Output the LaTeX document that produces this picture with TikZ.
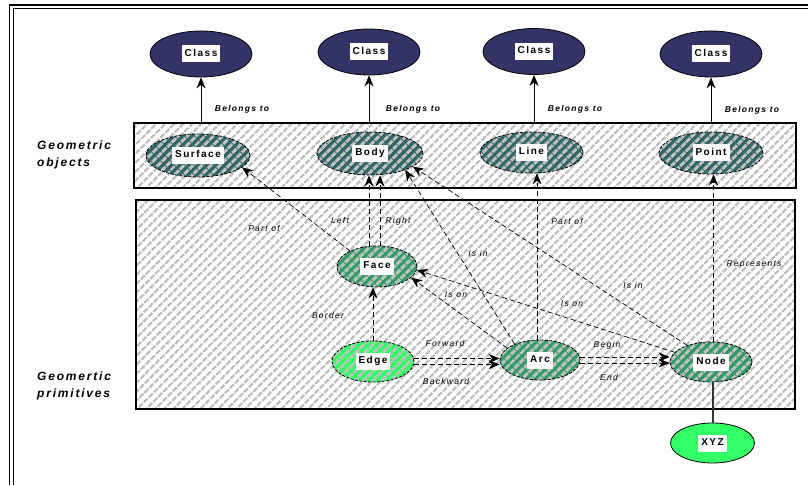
\documentclass[tikz,border=0pt]{standalone}
\usepackage{fontspec}
\setmainfont{Liberation Sans}[LetterSpace=15]
\usetikzlibrary{arrows.meta,shapes.geometric,patterns.meta}

\definecolor{classblue}{RGB}{51,51,102}
\definecolor{objteal}{RGB}{51,102,102}
\definecolor{primgreen}{RGB}{51,153,102}
\definecolor{lightgreen}{RGB}{51,255,102}
\definecolor{hatchgray}{RGB}{192,192,192}

% white label box sitting inside the ovals
\newcommand{\tagbox}[1]{{\setlength{\fboxsep}{3pt}\colorbox{white}{\strut #1}}}

\tikzset{
  oval/.style={ellipse, inner sep=0pt, font=\fontsize{10}{11}\selectfont\bfseries},
  classnode/.style={oval, draw, line width=0.8pt, fill=classblue,
    minimum width=102pt, minimum height=46pt},
  hatchfill/.style={preaction={fill=#1},
    preaction={pattern={Lines[angle=45,distance=6.5pt,line width=3.2pt]}, pattern color=hatchgray}},
  geonode/.style={oval, draw, line width=0.8pt, dash pattern=on 3pt off 1.5pt, hatchfill=#1},
  panel/.style={draw, line width=1.2pt, preaction={fill=white},
    preaction={pattern={Lines[angle=45,distance=6.5pt,line width=2.4pt]}, pattern color=hatchgray}},
  link/.style={line width=0.7pt, dash pattern=on 5pt off 3pt, -{Stealth[length=11pt,width=9pt]}},
  belongs/.style={line width=0.8pt, -{Stealth[length=11pt,width=9pt]}},
  lbl/.style={inner sep=0pt, font=\fontsize{8.5}{10}\selectfont\itshape},
  blbl/.style={inner sep=0pt, font=\fontsize{8.5}{10}\selectfont\bfseries\itshape},
  sidetitle/.style={anchor=west, align=left, inner sep=0pt,
    font=\fontsize{12}{17}\selectfont\bfseries\itshape}
}

\begin{document}
\begin{tikzpicture}[x=1pt,y=1pt]
\useasboundingbox (0,0) rectangle (808,485);

% double frame
\draw[line width=1.6pt] (9.5,0) -- (9.5,480) -- (808,480);
\draw[line width=1pt] (13,0) -- (13,476.5) -- (808,476.5);

% classes
\node[classnode] (clsA) at (201,431) {\tagbox{Class}};
\node[classnode] (clsB) at (369,433) {\tagbox{Class}};
\node[classnode] (clsC) at (534,433.5) {\tagbox{Class}};
\node[classnode] (clsD) at (711,431) {\tagbox{Class}};

\coordinate (objtop) at (0,362);
\draw[belongs] (clsA.south |- objtop) -- (clsA.south);
\draw[belongs] (clsB.south |- objtop) -- (clsB.south);
\draw[belongs] (clsC.south |- objtop) -- (clsC.south);
\draw[belongs] (clsD.south |- objtop) -- (clsD.south);

\node[blbl] (bA) at (242,376) {Belongs to};
\node[blbl] (bB) at (413,376) {Belongs to};
\node[blbl] (bC) at (575,376) {Belongs to};
\node[blbl] (bD) at (752,375) {Belongs to};

% the two layers
\draw[panel] (134,362) rectangle (796,297);
\draw[panel] (136,285) rectangle (795,76);

\node[sidetitle] (tObj) at (37,330.5) {Geometric\\objects};
\node[sidetitle] (tPrim) at (37,99.5) {Geomertic\\primitives};

% geometric objects
\node[geonode=objteal, minimum width=104pt, minimum height=43pt] (surface) at (198,329.5) {\tagbox{Surface}};
\node[geonode=objteal, minimum width=106pt, minimum height=43pt] (body) at (370,331.5) {\tagbox{Body}};
\node[geonode=objteal, minimum width=103pt, minimum height=41pt] (line) at (531.5,332.5) {\tagbox{Line}};
\node[geonode=objteal, minimum width=104pt, minimum height=42pt] (point) at (711,332) {\tagbox{Point}};

% primitives
\node[geonode=primgreen, minimum width=80pt, minimum height=41pt] (face) at (377,218.5) {\tagbox{Face}};
\node[geonode=lightgreen, minimum width=82pt, minimum height=41pt] (edgep) at (373,123.5) {\tagbox{Edge}};
\node[geonode=primgreen, minimum width=80pt, minimum height=40pt] (arcp) at (540,125) {\tagbox{Arc}};
\node[geonode=primgreen, minimum width=82pt, minimum height=40pt] (nodep) at (711,123) {\tagbox{Node}};
\node[oval, draw, line width=0.8pt, fill=lightgreen, minimum width=84pt, minimum height=40pt] (xyz) at (712.5,42) {\tagbox{XYZ}};

% links between primitives and objects
\draw[link] (face.150) -- (surface.-15);
\draw[link] ([xshift=-8pt]face.north) -- ([xshift=-8pt]face.north |- body.south);
\draw[link] ([xshift=3pt]face.north) -- ([xshift=3pt]face.north |- body.south);
\draw[link] (arcp.148) -- (body.-25);
\draw[link] (nodep.145) -- (body.-17);
\draw[link] ([xshift=-3pt]arcp.north) -- ([xshift=-3pt]arcp.north |- line.south);
\draw[link] ([xshift=2.5pt]nodep.north) -- ([xshift=2.5pt]nodep.north |- point.south);
\draw[link] (edgep.north) -- (edgep.north |- face.south);
\draw[link] (arcp.160) -- (face.-18);
\draw[link] (nodep.165) -- (face.-5);
\draw[link] ([yshift=3pt]edgep.east) -- ([yshift=3pt]edgep.east -| arcp.west);
\draw[link] ([yshift=-3pt]edgep.east) -- ([yshift=-3pt]edgep.east -| arcp.west);
\draw[link] ([yshift=3pt]arcp.east) -- ([yshift=3pt]arcp.east -| nodep.west);
\draw[link] ([yshift=-3pt]arcp.east) -- ([yshift=-3pt]arcp.east -| nodep.west);
\draw[line width=1.3pt, black!80] ([xshift=2pt]nodep.south) -- ([xshift=2pt]nodep.south |- xyz.north);

% link labels
\node[lbl] (lPartA) at (264,257) {Part of};
\node[lbl] (lLeft) at (340,265) {Left};
\node[lbl] (lRight) at (398,264) {Right};
\node[lbl] (lInA) at (478,232) {Is in};
\node[lbl] (lPartB) at (567,264) {Part of};
\node[lbl] (lRep) at (754,221) {Represents};
\node[lbl] (lInB) at (633,200) {Is in};
\node[lbl] (lOnA) at (456,190) {Is on};
\node[lbl] (lOnB) at (572,181) {Is on};
\node[lbl] (lBorder) at (328,170) {Border};
\node[lbl] (lFwd) at (445,142) {Forward};
\node[lbl] (lBwd) at (446,104) {Backward};
\node[lbl] (lBegin) at (607,140) {Begin};
\node[lbl] (lEnd) at (609,108) {End};
\end{tikzpicture}
\end{document}
